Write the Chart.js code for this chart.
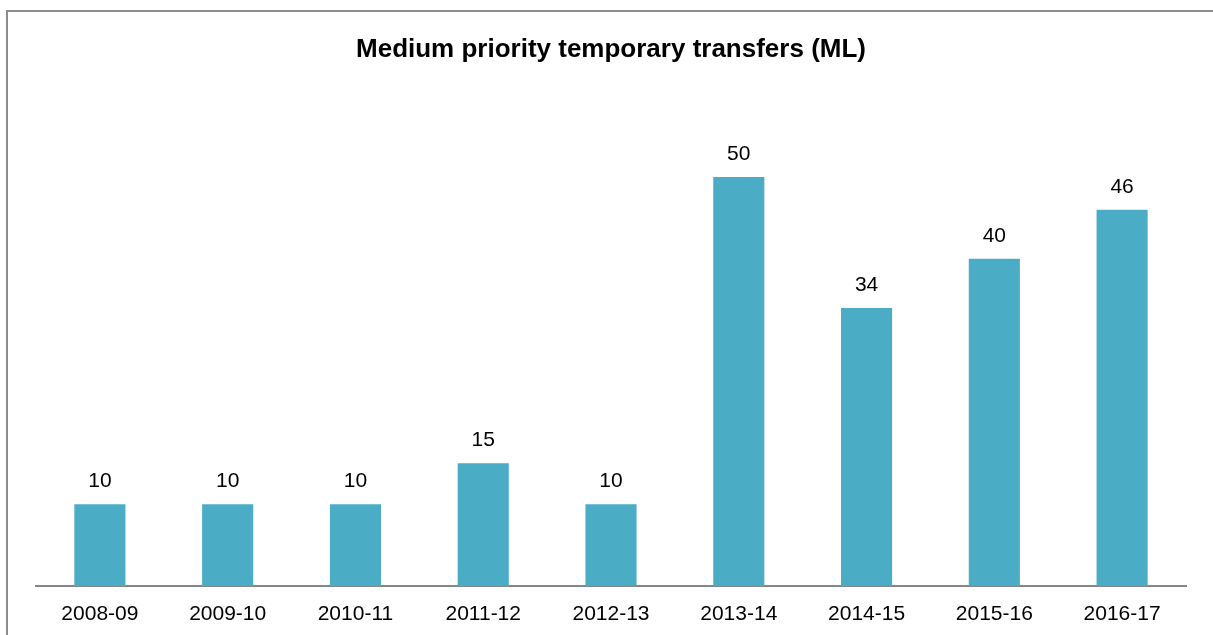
<!DOCTYPE html>
<html lang="en">
<head>
<meta charset="UTF-8">
<title>Medium priority temporary transfers (ML)</title>
<script src="https://cdn.jsdelivr.net/npm/chart.js"></script>
<style>
  html, body { margin: 0; padding: 0; background: #fff; overflow: hidden; }
  canvas { display: block; }
</style>
</head>
<body>
<canvas id="transferChart" width="1213" height="635"></canvas>
<script>
const years = ['2008-09', '2009-10', '2010-11', '2011-12', '2012-13', '2013-14', '2014-15', '2015-16', '2016-17'];
const transfers = [10, 10, 10, 15, 10, 50, 34, 40, 46];

const fontFamily = '"Liberation Sans", Arial, sans-serif';

// outer frame
const framePlugin = {
    id: 'frame',
    beforeDraw(chart) {
        const ctx = chart.ctx;
        ctx.save();
        ctx.fillStyle = '#fff';
        ctx.fillRect(0, 0, chart.width, chart.height);
        ctx.strokeStyle = '#8c8c8c';
        ctx.lineWidth = 2;
        ctx.strokeRect(7, 11, 1400, 1000);
        ctx.restore();
    }
};

// value labels above bars
const valueLabels = {
    id: 'valueLabels',
    afterDatasetsDraw(chart) {
        const ctx = chart.ctx;
        const meta = chart.getDatasetMeta(0);
        ctx.save();
        ctx.font = '21px ' + fontFamily;
        ctx.fillStyle = '#000';
        ctx.textAlign = 'center';
        ctx.textBaseline = 'alphabetic';
        meta.data.forEach((bar, i) => {
            ctx.fillText(transfers[i], bar.x, bar.y - 17);
        });
        ctx.restore();
    }
};

new Chart(document.getElementById('transferChart'), {
    type: 'bar',
    data: {
        labels: years,
        datasets: [{
            data: transfers,
            backgroundColor: '#4bacc6',
            categoryPercentage: 1,
            barPercentage: 0.4
        }]
    },
    options: {
        responsive: false,
        animation: false,
        layout: { padding: { left: 36, right: 27, top: 0, bottom: 0 } },
        plugins: {
            legend: { display: false },
            tooltip: { enabled: false },
            title: {
                display: true,
                text: 'Medium priority temporary transfers (ML)',
                color: '#000',
                font: { family: fontFamily, size: 26, weight: 'bold' },
                padding: { top: 34, bottom: 30 }
            }
        },
        scales: {
            x: {
                grid: { display: false, drawTicks: false },
                border: { color: '#868686', width: 2 },
                ticks: {
                    color: '#000',
                    padding: 16,
                    font: { family: fontFamily, size: 21 }
                },
                afterFit(scale) { scale.height = 49; }
            },
            y: {
                display: false,
                min: 0,
                max: 60
            }
        }
    },
    plugins: [framePlugin, valueLabels]
});
</script>
</body>
</html>
